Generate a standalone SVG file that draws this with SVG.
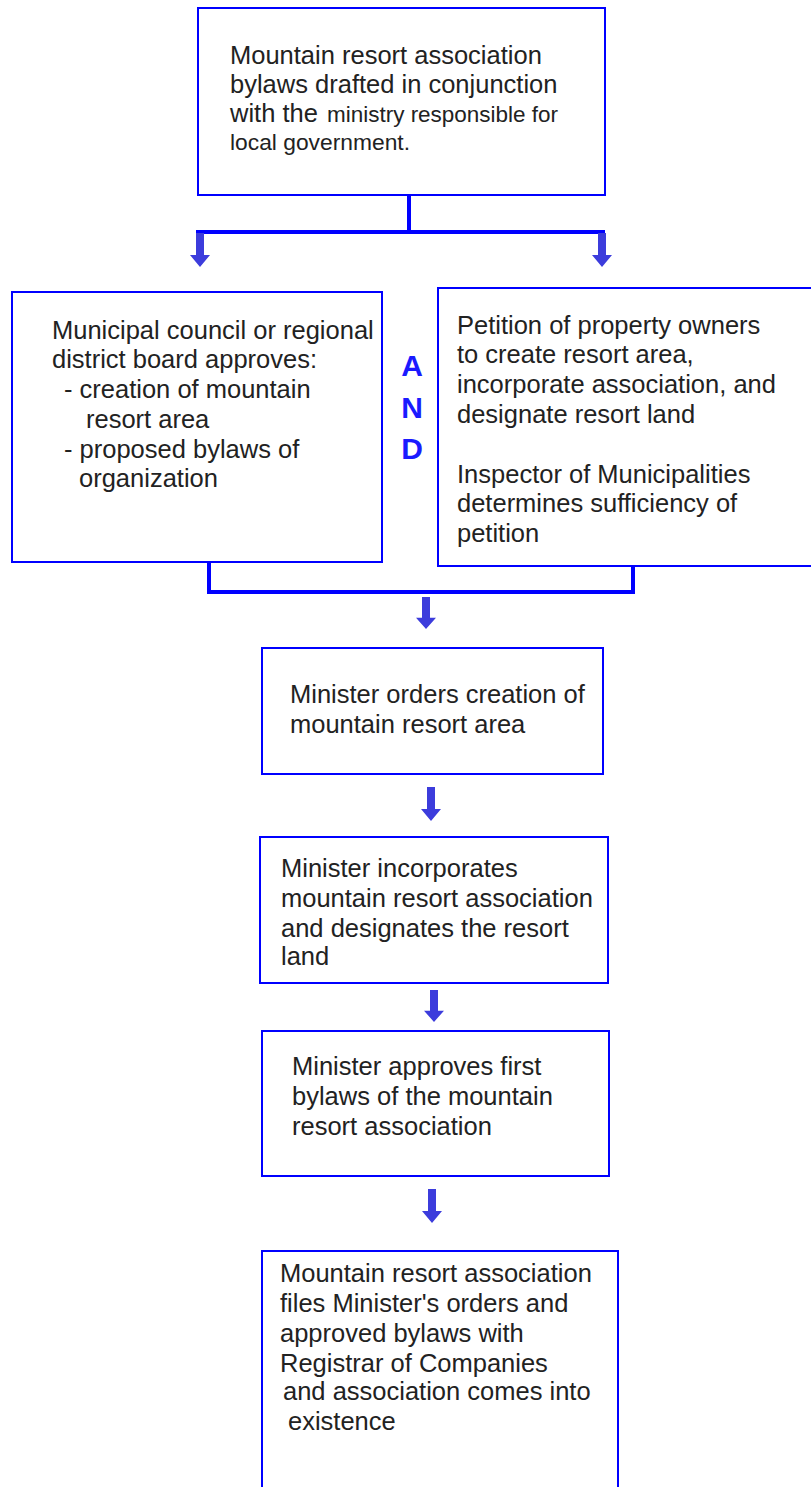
<svg xmlns="http://www.w3.org/2000/svg" width="811" height="1487" viewBox="0 0 811 1487">
<defs>
<style>
.box{fill:#fff;stroke:#0000ff;stroke-width:2}
.t{font-family:"Liberation Sans",Arial,sans-serif;font-size:25.5px;fill:#222}
.s{font-size:22px}
.and{font-family:"Liberation Sans",Arial,sans-serif;font-size:30px;font-weight:bold;fill:#1a1aff;text-anchor:middle}
.ln{fill:none;stroke:#0000ff;stroke-width:4}
.ar{fill:#3c3cdc}
</style>
<path id="arr" d="M-4,0 H4 V22 H10 L0,34 L-10,22 H-4 Z"/>
</defs>
<rect width="811" height="1487" fill="#fff"/>
<g id="connectors">
<path class="ln" d="M409,195 V232 M196,232 H605"/>
<use href="#arr" class="ar" x="200" y="233"/>
<use href="#arr" class="ar" x="602" y="233"/>
<path class="ln" d="M209,562 V592 H633 V566"/>
<use href="#arr" class="ar" transform="translate(426,597) scale(1,0.94)"/>
<use href="#arr" class="ar" x="431" y="787"/>
<use href="#arr" class="ar" transform="translate(434,990) scale(1,0.94)"/>
<use href="#arr" class="ar" x="432" y="1189"/>
</g>
<g id="n1">
<rect class="box" x="198" y="8" width="407" height="187"/>
<text class="t" x="230" y="64">Mountain resort association</text>
<text class="t" x="230" y="93">bylaws drafted in conjunction</text>
<text class="t" x="230" y="122">with the <tspan class="s" x="327" textLength="231" lengthAdjust="spacingAndGlyphs">ministry responsible for</tspan></text>
<text class="t s" x="230" y="150" textLength="180" lengthAdjust="spacingAndGlyphs">local government.</text>
</g>
<g id="n2">
<rect class="box" x="12" y="292" width="370" height="270"/>
<text class="t" x="52" y="339">Municipal council or regional</text>
<text class="t" x="52" y="368">district board approves:</text>
<text class="t" x="64" y="398">- creation of mountain</text>
<text class="t" x="86" y="428">resort area</text>
<text class="t" x="64" y="458">- proposed bylaws of</text>
<text class="t" x="79" y="487">organization</text>
</g>
<g id="and">
<text class="and" x="412" y="376">A</text>
<text class="and" x="412" y="418">N</text>
<text class="and" x="412" y="459">D</text>
</g>
<g id="n3">
<rect class="box" x="438" y="288" width="380" height="278"/>
<text class="t" x="457" y="334">Petition of property owners</text>
<text class="t" x="457" y="363">to create resort area,</text>
<text class="t" x="457" y="393">incorporate association, and</text>
<text class="t" x="457" y="423">designate resort land</text>
<text class="t" x="457" y="483">Inspector of Municipalities</text>
<text class="t" x="457" y="512">determines sufficiency of</text>
<text class="t" x="457" y="542">petition</text>
</g>
<g id="n4">
<rect class="box" x="262" y="648" width="341" height="126"/>
<text class="t" x="290" y="703">Minister orders creation of</text>
<text class="t" x="290" y="733">mountain resort area</text>
</g>
<g id="n5">
<rect class="box" x="260" y="837" width="348" height="146"/>
<text class="t" x="281" y="877">Minister incorporates</text>
<text class="t" x="281" y="907">mountain resort association</text>
<text class="t" x="281" y="937">and designates the resort</text>
<text class="t" x="281" y="965">land</text>
</g>
<g id="n6">
<rect class="box" x="262" y="1031" width="347" height="145"/>
<text class="t" x="292" y="1075">Minister approves first</text>
<text class="t" x="292" y="1105">bylaws of the mountain</text>
<text class="t" x="292" y="1135">resort association</text>
</g>
<g id="n7">
<rect class="box" x="262" y="1251" width="356" height="250"/>
<text class="t" x="280" y="1282">Mountain resort association</text>
<text class="t" x="280" y="1312">files Minister's orders and</text>
<text class="t" x="280" y="1342">approved bylaws with</text>
<text class="t" x="280" y="1372">Registrar of Companies</text>
<text class="t" x="283" y="1400">and association comes into</text>
<text class="t" x="288" y="1430">existence</text>
</g>
</svg>
